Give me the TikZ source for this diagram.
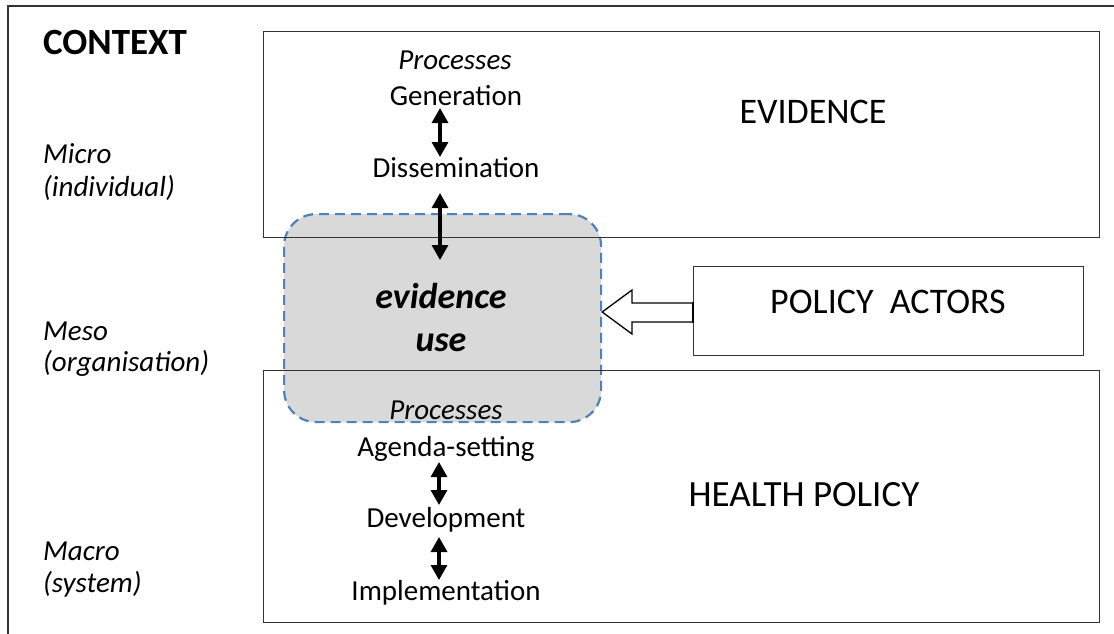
\documentclass[tikz,border=0pt]{standalone}
\usepackage{fontspec}
\setmainfont{Carlito}
\usetikzlibrary{arrows.meta}
\definecolor{dashblue}{HTML}{4F81BD}
\definecolor{usegray}{HTML}{D9D9D9}
\begin{document}
\begin{tikzpicture}[x=1pt,y=-1pt,
  box/.style={draw=black!80, line width=1.3pt, inner sep=0pt, anchor=north west},
  small/.style={font=\fontsize{29}{34}\selectfont, inner sep=0pt, anchor=base},
  lefttxt/.style={font=\fontsize{29}{34}\selectfont\itshape, inner sep=0pt, anchor=base west},
  big/.style={font=\fontsize{36}{42}\selectfont, inner sep=0pt, anchor=base},
  dbl/.style={line width=3.2pt, {Triangle[length=15pt,width=16pt]}-{Triangle[length=15pt,width=16pt]}}]
\useasboundingbox (0,0) rectangle (1114,633);
% outer context frame
\draw[line width=2pt, black!80] (8,640) -- (8,6) -- (1120,6);
% evidence use (grey dashed rounded box)
\node[draw=dashblue, fill=usegray, line width=2.2pt, dash pattern=on 10pt off 6pt,
      rounded corners=32pt, minimum width=317pt, minimum height=208pt, inner sep=0pt,
      anchor=north west] (use) at (283,213) {};
% boxes
\node[box, minimum width=836pt, minimum height=206pt] (ev) at (263,31) {};
\node[box, minimum width=836pt, minimum height=252pt] (hp) at (263,370) {};
\node[box, minimum width=390pt, minimum height=89pt] (pa) at (693,266) {};
% texts
\node[big, font=\fontsize{37}{42}\selectfont\bfseries] (ctx) at (115,54) {CONTEXT};
\node[lefttxt] (mic1) at (43,163) {Micro};
\node[lefttxt] (mic2) at (43,196) {(individual)};
\node[lefttxt] (mes1) at (43,340) {Meso};
\node[lefttxt] (mes2) at (43,371) {(organisation)};
\node[lefttxt] (mac1) at (43,560) {Macro};
\node[lefttxt] (mac2) at (43,592) {(system)};

\node[small, font=\fontsize{29}{34}\selectfont\itshape] (proc1) at (455,69) {Processes};
\node[small] (gen) at (456,105) {Generation};
\node[small] (dis) at (456,177) {Dissemination};
\node[big] (evt) at (813,123) {EVIDENCE};

\node[big, font=\fontsize{36}{42}\selectfont\bfseries\itshape] (evu1) at (441,308) {evidence};
\node[big, font=\fontsize{36}{42}\selectfont\bfseries\itshape] (evu2) at (441,351) {use};

\node[big] (pat) at (888,313) {POLICY\ \ ACTORS};

\node[small, font=\fontsize{29}{34}\selectfont\itshape] (proc2) at (446,419) {Processes};
\node[small] (ags) at (446,456) {Agenda-setting};
\node[small] (dev) at (446,527) {Development};
\node[small] (imp) at (446,600) {Implementation};
\node[big, font=\fontsize{37}{42}\selectfont] (hpt) at (804,506) {HEALTH POLICY};

% double arrows
\coordinate (a1t) at (440,108); \coordinate (a1b) at (440,157);
\coordinate (a2t) at (440,193); \coordinate (a2b) at (440,260);
\coordinate (a3t) at (439,462); \coordinate (a3b) at (439,505);
\coordinate (a4t) at (439,537); \coordinate (a4b) at (439,580);
\draw[dbl] (a1t) -- (a1b);
\draw[dbl] (a2t) -- (a2b);
\draw[dbl] (a3t) -- (a3b);
\draw[dbl] (a4t) -- (a4b);

% hollow block arrow from policy actors to evidence use
\draw[line width=1.3pt, fill=white, line join=miter]
  (pa.west |- 0,303) -- (632,303) -- (632,290) -- (use.east |- 0,312) -- (632,334)
  -- (632,322) -- (pa.west |- 0,322);
\draw[line width=2.6pt] (pa.west |- 0,302) -- (pa.west |- 0,323);
\end{tikzpicture}
\end{document}
